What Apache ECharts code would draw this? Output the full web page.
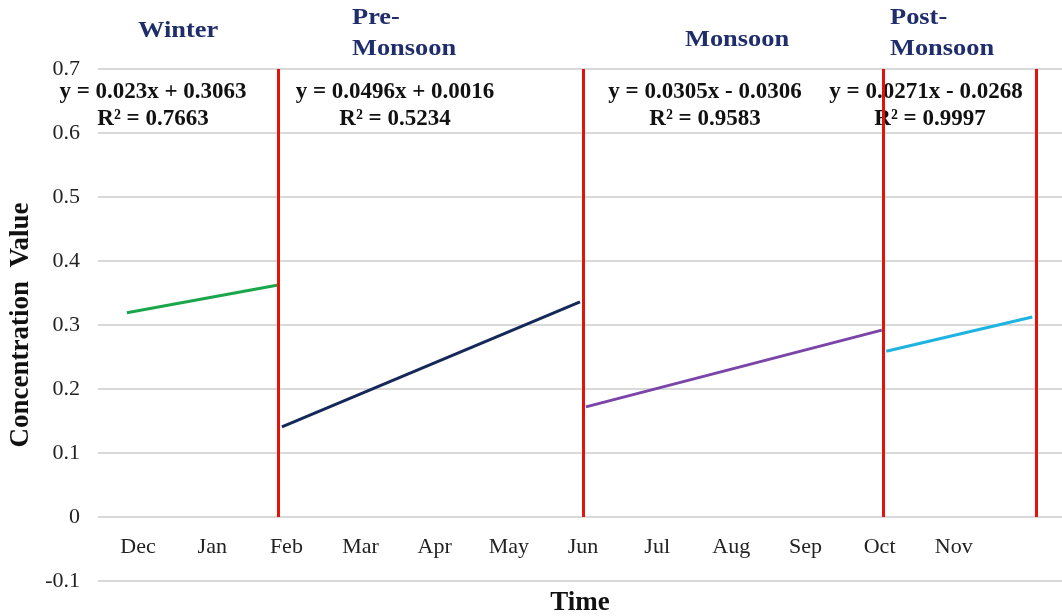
<!DOCTYPE html>
<html>
<head>
<meta charset="utf-8">
<script src="https://cdn.jsdelivr.net/npm/echarts@6/dist/echarts.min.js"></script>
<style>
  html, body { margin: 0; padding: 0; background: #fff; }
  #chart { width: 1062px; height: 616px; }
</style>
</head>
<body>
<div id="chart"></div>
<script>
// month labels, the last slot is left blank (end of post-monsoon)
var months = ["Dec", "Jan", "Feb", "Mar", "Apr", "May", "Jun", "Jul", "Aug", "Sep", "Oct", "Nov", ""];
var yTicks = [-0.1, 0, 0.1, 0.2, 0.3, 0.4, 0.5, 0.6, 0.7];

// trend lines: [month position, value]
var winter = [[-0.11, 0.319], [1.93, 0.3625]];
var preMonsoon = [[1.98, 0.141], [6.0, 0.336]];
var monsoon = [[6.08, 0.172], [10.07, 0.292]];
var postMonsoon = [[10.13, 0.259], [12.1, 0.3125]];

// season boundaries (red lines)
var boundaries = [1.93, 6.04, 10.09, 12.15];

var seasons = ["Winter", "Pre-\nMonsoon", "Monsoon", "Post-\nMonsoon"];
var equations = ["y = 0.023x + 0.3063", "y = 0.0496x + 0.0016", "y = 0.0305x - 0.0306", "y = 0.0271x - 0.0268"];
var rSquared = ["R² = 0.7663", "R² = 0.5234", "R² = 0.9583", "R² = 0.9997"];

var serif = "Liberation Serif";
var myChart = echarts.init(document.getElementById("chart"));

function trend(name, data, color) {
  return {
    name: name,
    type: "line",
    xAxisIndex: 1,
    data: data,
    symbol: "none",
    lineStyle: { color: color, width: 3 },
    z: 3
  };
}

var markLines = boundaries.map(function (b) {
  return [{ coord: [b, 0] }, { coord: [b, 0.7] }];
});

var series = [
  trend("Winter", winter, "#1aa64a"),
  trend("Pre-Monsoon", preMonsoon, "#14285a"),
  trend("Monsoon", monsoon, "#7a45a8"),
  trend("Post-Monsoon", postMonsoon, "#1eb3e0")
];
series.push({
  name: "boundary",
  type: "line",
  xAxisIndex: 1,
  data: [],
  markLine: {
    symbol: "none",
    silent: true,
    label: { show: false },
    lineStyle: { color: "#e3120b", width: 3, type: "solid" },
    data: markLines
  },
  z: 4
});

// season titles and equations
var seasonPos = [[138, 15], [352, 2], [685, 24], [890, 2]];
var eqX = [153, 395, 705, 926];
var graphics = [];
seasons.forEach(function (s, i) {
  graphics.push({
    type: "text",
    x: seasonPos[i][0],
    y: seasonPos[i][1],
    scaleX: 1.1,
    style: {
      text: s,
      font: "bold 24px " + serif,
      fill: "#1f2d6b",
      lineHeight: 31
    }
  });
});
equations.forEach(function (eq, i) {
  graphics.push({
    type: "text",
    x: eqX[i],
    y: 81,
    style: { text: eq, font: "bold 23px " + serif, fill: "#111", align: "center" }
  });
  graphics.push({
    type: "text",
    x: i === 3 ? 930 : eqX[i],
    y: 108,
    style: { text: rSquared[i], font: "bold 23px " + serif, fill: "#111", align: "center" }
  });
});

var option = {
  backgroundColor: "#fff",
  animation: false,
  grid: { left: 98, right: 0, top: 69, bottom: 35, outerBoundsMode: "none", containLabel: false },
  xAxis: [
    {
      type: "category",
      position: "bottom",
      // month row sits on the zero line, one step above the grid bottom
      offset: -64,
      data: months,
      boundaryGap: true,
      axisLine: { show: false, onZero: false },
      axisTick: { show: false },
      axisLabel: { fontFamily: serif, fontSize: 22, color: "#222", margin: 19, padding: [0, 0, 0, 6] },
      name: "Time",
      nameLocation: "middle",
      nameGap: 73,
      nameTextStyle: { fontFamily: serif, fontSize: 27, fontWeight: "bold", color: "#111" }
    },
    {
      type: "value",
      position: "top",
      min: -0.5,
      max: 12.5,
      show: false,
      axisLine: { onZero: false }
    }
  ],
  yAxis: {
    type: "value",
    min: yTicks[0],
    max: yTicks[yTicks.length - 1],
    interval: 0.1,
    axisLine: { show: false },
    axisTick: { show: false },
    splitLine: { lineStyle: { color: "#d9d9d9", width: 2 } },
    axisLabel: {
      fontFamily: serif,
      fontSize: 22,
      color: "#222",
      margin: 18,
      formatter: function (v) { return String(Math.round(v * 10) / 10); }
    },
    name: "Concentration  Value",
    nameLocation: "middle",
    nameGap: 57,
    nameTextStyle: { fontFamily: serif, fontSize: 27, fontWeight: "bold", color: "#111" }
  },
  series: series,
  graphic: graphics
};

myChart.setOption(option);
</script>
</body>
</html>
